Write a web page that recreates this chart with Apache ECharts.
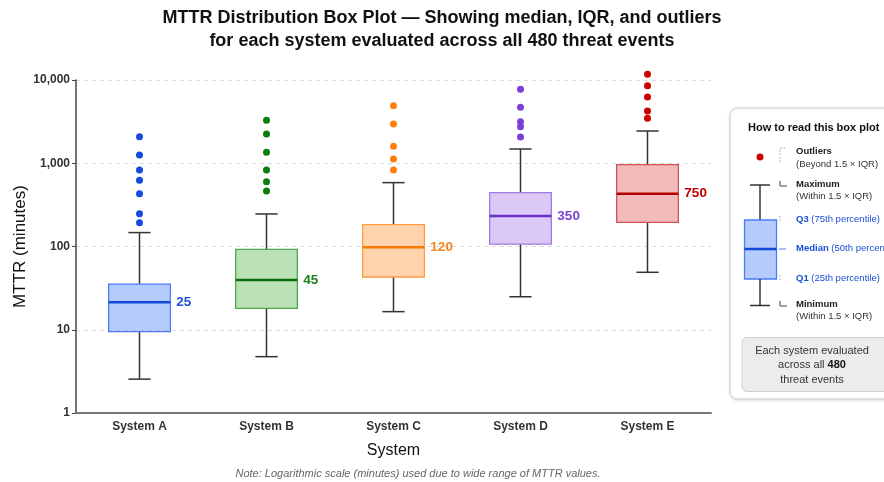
<!DOCTYPE html>
<html>
<head>
<meta charset="utf-8">
<script src="https://cdn.jsdelivr.net/npm/echarts@6/dist/echarts.min.js"></script>
<style>
html,body{margin:0;padding:0;background:#fff;}
#chart{width:884px;height:482px;}
</style>
</head>
<body>
<div id="chart"></div>
<script>
// ---- data ----
const categories = ['System A', 'System B', 'System C', 'System D', 'System E'];
const minVals    = [2.55, 4.75, 16.5, 24.9, 49];
const q1Vals     = [9.5, 18.1, 43, 107, 195];
const medianVals = [21.4, 39.6, 98, 232, 431];
const q3Vals     = [35.4, 92.6, 183, 443, 961];
const maxVals    = [147, 246, 585, 1483, 2439];
const medianLabels = ['25', '45', '120', '350', '750'];
const outliersA = [193, 248, 431, 624, 830, 1257, 2084];
const outliersB = [464, 601, 830, 1353, 2245, 3280];
const outliersC = [830, 1125, 1597, 2960, 4918];
const outliersD = [2066, 2750, 3157, 4700, 7730];
const outliersE = [3467, 4245, 6250, 8550, 11700];
const yTicks = [1, 10, 100, 1000, 10000];

// ---- styles ----
const dotColors    = ['#1549e0', '#0b7d0b', '#ff7f0e', '#7b3ddc', '#cc0000'];
const fillColors   = ['rgba(120,160,250,0.55)', 'rgba(120,195,110,0.5)', 'rgba(255,170,90,0.5)', 'rgba(190,155,235,0.55)', 'rgba(230,120,120,0.5)'];
const borderColors = ['#4d7cf6', '#4caa4c', '#ff9b40', '#a07ae6', '#d65252'];
const medianColors = ['#1448d8', '#0b6e0b', '#f57c00', '#6a30c8', '#b40000'];
const labelColors  = ['#1f4fd8', '#1d801d', '#f5831f', '#7d42d8', '#c00000'];
const FONT = '"Liberation Sans", Arial, Helvetica, sans-serif';

const boxData = categories.map((c, i) => [i, minVals[i], q1Vals[i], medianVals[i], q3Vals[i], maxVals[i], medianLabels[i]]);
const outlierLists = [outliersA, outliersB, outliersC, outliersD, outliersE];

function renderBox(params, api) {
  const i = api.value(0);
  const pMin = api.coord([i, api.value(1)]);
  const pQ1 = api.coord([i, api.value(2)]);
  const pMed = api.coord([i, api.value(3)]);
  const pQ3 = api.coord([i, api.value(4)]);
  const pMax = api.coord([i, api.value(5)]);
  const band = api.size([1, 0])[0];
  const bw = band * 0.486;
  const cw = band * 0.175;
  const x = pMed[0];
  const ws = { stroke: '#333', lineWidth: 1.5 };
  return {
    type: 'group',
    children: [
      { type: 'line', shape: { x1: x, y1: pQ3[1], x2: x, y2: pMax[1] }, style: ws },
      { type: 'line', shape: { x1: x, y1: pQ1[1], x2: x, y2: pMin[1] }, style: ws },
      { type: 'line', shape: { x1: x - cw / 2, y1: pMax[1], x2: x + cw / 2, y2: pMax[1] }, style: ws },
      { type: 'line', shape: { x1: x - cw / 2, y1: pMin[1], x2: x + cw / 2, y2: pMin[1] }, style: ws },
      { type: 'rect', shape: { x: x - bw / 2, y: pQ3[1], width: bw, height: pQ1[1] - pQ3[1] },
        style: { fill: fillColors[i], stroke: borderColors[i], lineWidth: 1.3 } },
      { type: 'line', shape: { x1: x - bw / 2, y1: pMed[1], x2: x + bw / 2, y2: pMed[1] },
        style: { stroke: medianColors[i], lineWidth: 2.6 } },
      { type: 'text', x: x + bw / 2 + 6, y: pMed[1],
        style: { text: medianLabels[i], fill: labelColors[i], font: 'bold 13.5px ' + FONT,
                 textAlign: 'left', textVerticalAlign: 'middle' } }
    ]
  };
}

const scatterSeries = outlierLists.map((list, i) => ({
  type: 'scatter',
  name: categories[i] + ' outliers',
  data: list.map(v => [i, v]),
  symbol: 'circle',
  symbolSize: 7,
  clip: false,
  itemStyle: { color: dotColors[i], opacity: 1 },
  z: 3
}));

const legendX = 730, legendY = 108;
const blue = '#1a4fd8';
const graphicEls = [
  { type: 'rect', shape: { x: legendX, y: legendY, width: 175, height: 291, r: 7 },
    style: { fill: '#fff', stroke: '#cfcfcf', lineWidth: 1, shadowBlur: 3, shadowColor: 'rgba(0,0,0,0.12)', shadowOffsetY: 1 } },
  { type: 'text', x: 748, y: 128, style: { text: 'How to read this box plot', font: 'bold 11px ' + FONT, fill: '#111', textVerticalAlign: 'middle' } },
  // mini box plot
  { type: 'circle', shape: { cx: 760, cy: 157, r: 3.5 }, style: { fill: '#cc0000' } },
  { type: 'line', shape: { x1: 750, y1: 185, x2: 770, y2: 185 }, style: { stroke: '#333', lineWidth: 1.5 } },
  { type: 'line', shape: { x1: 760, y1: 185, x2: 760, y2: 220 }, style: { stroke: '#333', lineWidth: 1.5 } },
  { type: 'rect', shape: { x: 744.5, y: 220, width: 32, height: 59 }, style: { fill: 'rgba(120,160,250,0.55)', stroke: '#4d7cf6', lineWidth: 1.3 } },
  { type: 'line', shape: { x1: 744.5, y1: 249, x2: 776.5, y2: 249 }, style: { stroke: '#1448d8', lineWidth: 2.6 } },
  { type: 'line', shape: { x1: 760, y1: 279, x2: 760, y2: 305.5 }, style: { stroke: '#333', lineWidth: 1.5 } },
  { type: 'line', shape: { x1: 750, y1: 305.5, x2: 770, y2: 305.5 }, style: { stroke: '#333', lineWidth: 1.5 } },
  // leader marks
  { type: 'polyline', shape: { points: [[785, 148], [780, 148], [780, 163]] }, style: { stroke: '#999', lineWidth: 1, lineDash: [1.5, 2] } },
  { type: 'polyline', shape: { points: [[780, 181], [780, 186], [787, 186]] }, style: { stroke: '#444', lineWidth: 1 } },
  { type: 'line', shape: { x1: 780, y1: 216, x2: 780, y2: 223 }, style: { stroke: '#999', lineWidth: 1, lineDash: [1.5, 2] } },
  { type: 'line', shape: { x1: 779, y1: 249, x2: 786, y2: 249 }, style: { stroke: '#4d7cf6', lineWidth: 1 } },
  { type: 'line', shape: { x1: 780, y1: 275, x2: 780, y2: 282 }, style: { stroke: '#999', lineWidth: 1, lineDash: [1.5, 2] } },
  { type: 'polyline', shape: { points: [[780, 301], [780, 306], [787, 306]] }, style: { stroke: '#444', lineWidth: 1 } },
  // legend texts
  { type: 'text', x: 796, y: 151, style: { text: 'Outliers', font: 'bold 9.5px ' + FONT, fill: '#222', textVerticalAlign: 'middle' } },
  { type: 'text', x: 796, y: 164.5, style: { text: '(Beyond 1.5 × IQR)', font: '9.5px ' + FONT, fill: '#333', textVerticalAlign: 'middle' } },
  { type: 'text', x: 796, y: 184, style: { text: 'Maximum', font: 'bold 9.5px ' + FONT, fill: '#222', textVerticalAlign: 'middle' } },
  { type: 'text', x: 796, y: 196, style: { text: '(Within 1.5 × IQR)', font: '9.5px ' + FONT, fill: '#333', textVerticalAlign: 'middle' } },
  { type: 'text', x: 796, y: 219.5, style: { text: '{b|Q3} (75th percentile)', font: '9.5px ' + FONT, fill: blue, textVerticalAlign: 'middle',
      rich: { b: { fontWeight: 'bold', fontSize: 9.5, fontFamily: FONT, fill: blue } } } },
  { type: 'text', x: 796, y: 248.5, style: { text: '{b|Median} (50th percentile)', font: '9.5px ' + FONT, fill: blue, textVerticalAlign: 'middle',
      rich: { b: { fontWeight: 'bold', fontSize: 9.5, fontFamily: FONT, fill: blue } } } },
  { type: 'text', x: 796, y: 278.5, style: { text: '{b|Q1} (25th percentile)', font: '9.5px ' + FONT, fill: blue, textVerticalAlign: 'middle',
      rich: { b: { fontWeight: 'bold', fontSize: 9.5, fontFamily: FONT, fill: blue } } } },
  { type: 'text', x: 796, y: 304, style: { text: 'Minimum', font: 'bold 9.5px ' + FONT, fill: '#222', textVerticalAlign: 'middle' } },
  { type: 'text', x: 796, y: 316, style: { text: '(Within 1.5 × IQR)', font: '9.5px ' + FONT, fill: '#333', textVerticalAlign: 'middle' } },
  // summary box
  { type: 'rect', shape: { x: 742, y: 337.5, width: 150, height: 54, r: 5 }, style: { fill: '#ececec', stroke: '#cfcfcf', lineWidth: 1 } },
  { type: 'text', x: 812, y: 351, style: { text: 'Each system evaluated', font: '11px ' + FONT, fill: '#333', textAlign: 'center', textVerticalAlign: 'middle' } },
  { type: 'text', x: 812, y: 365, style: { text: 'across all {b|480}', font: '11px ' + FONT, fill: '#333', textAlign: 'center', textVerticalAlign: 'middle',
      rich: { b: { fontWeight: 'bold', fontSize: 11, fontFamily: FONT, fill: '#111' } } } },
  { type: 'text', x: 812, y: 379.5, style: { text: 'threat events', font: '11px ' + FONT, fill: '#333', textAlign: 'center', textVerticalAlign: 'middle' } },
  // note
  { type: 'text', x: 418, y: 474, style: { text: 'Note: Logarithmic scale (minutes) used due to wide range of MTTR values.',
      font: 'italic 11px ' + FONT, fill: '#666', textAlign: 'center', textVerticalAlign: 'middle' } }
];

const chart = echarts.init(document.getElementById('chart'), null, { renderer: 'canvas' });
chart.setOption({
  backgroundColor: '#fff',
  animation: false,
  textStyle: { fontFamily: FONT },
  title: {
    text: 'MTTR Distribution Box Plot — Showing median, IQR, and outliers\nfor each system evaluated across all 480 threat events',
    left: 'center',
    top: 2,
    textStyle: { fontSize: 18, fontWeight: 'bold', color: '#111', lineHeight: 23, fontFamily: FONT, align: 'center' }
  },
  grid: { left: 76, right: 173, top: 80, bottom: 69, containLabel: false, outerBoundsMode: 'none' },
  xAxis: {
    type: 'category',
    data: categories,
    boundaryGap: true,
    name: 'System',
    nameLocation: 'middle',
    nameGap: 30,
    nameMoveOverlap: false,
    nameTextStyle: { fontSize: 16, color: '#111', fontFamily: FONT },
    axisLine: { lineStyle: { color: '#777', width: 2 } },
    axisTick: { show: false },
    axisLabel: { fontSize: 12, fontWeight: 'bold', color: '#333', margin: 8, fontFamily: FONT },
    splitLine: { show: false }
  },
  yAxis: {
    type: 'log',
    logBase: 10,
    min: yTicks[0],
    max: yTicks[yTicks.length - 1],
    name: 'MTTR (minutes)',
    nameLocation: 'middle',
    nameRotate: 90,
    nameGap: 47,
    nameMoveOverlap: false,
    nameTextStyle: { fontSize: 17, color: '#111', fontFamily: FONT },
    axisLine: { show: true, lineStyle: { color: '#444', width: 1.5 } },
    axisTick: { show: true, length: 4, lineStyle: { color: '#444' } },
    minorTick: { show: false },
    axisLabel: { fontSize: 12, fontWeight: 'bold', color: '#333', margin: 6, fontFamily: FONT,
                 formatter: v => Number(v).toLocaleString('en-US') },
    splitLine: { show: true, lineStyle: { color: '#dcdcdc', type: [4, 4], width: 1 } }
  },
  series: [
    {
      type: 'custom',
      name: 'boxes',
      renderItem: renderBox,
      data: boxData,
      encode: { x: 0, y: [1, 2, 3, 4, 5] },
      z: 2
    }
  ].concat(scatterSeries),
  graphic: { elements: graphicEls }
});
</script>
</body>
</html>
